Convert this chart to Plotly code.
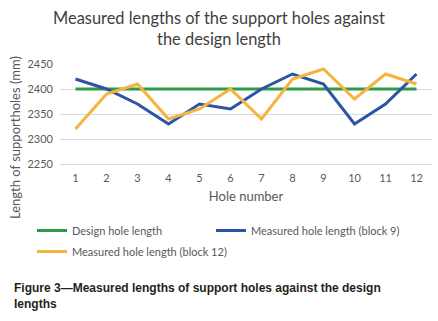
import plotly.graph_objects as go

holes = [1, 2, 3, 4, 5, 6, 7, 8, 9, 10, 11, 12]
design = [2400, 2400, 2400, 2400, 2400, 2400, 2400, 2400, 2400, 2400, 2400, 2400]
block9 = [2420, 2400, 2370, 2330, 2370, 2360, 2400, 2430, 2410, 2330, 2370, 2430]
block12 = [2320, 2390, 2410, 2340, 2360, 2400, 2340, 2420, 2440, 2380, 2430, 2410]
y_ticks = [2250, 2300, 2350, 2400, 2450]

W, H = 438, 321
L, R, T, B = 60, 6, 64, 157
pw = W - L - R
ph = H - T - B

def px_x(px):
    return (px - L) / pw

def px_y(py):
    return (H - B - py) / ph

font = "Lato, Open Sans, sans-serif"

fig = go.Figure()
fig.add_trace(go.Scatter(x=holes, y=design, mode="lines", name="Design hole length",
                         line=dict(color="#2E9B48", width=3), legend="legend"))
fig.add_trace(go.Scatter(x=holes, y=block9, mode="lines", name="Measured hole length (block 9)",
                         line=dict(color="#2D54A3", width=3), legend="legend2"))
fig.add_trace(go.Scatter(x=holes, y=block12, mode="lines", name="Measured hole length (block 12)",
                         line=dict(color="#F4B43E", width=3), legend="legend3"))

leg_common = dict(orientation="h", xanchor="left", yanchor="top",
                  font=dict(size=11, color="#595959"), itemwidth=30,
                  bgcolor="rgba(0,0,0,0)")

fig.update_layout(
    width=W, height=H,
    margin=dict(l=L, r=R, t=T, b=B, pad=0, autoexpand=False),
    paper_bgcolor="white", plot_bgcolor="white",
    font=dict(family=font, color="#595959", size=11),
    title=dict(text="Measured lengths of the support holes against<br>the design length",
               x=0.5, xanchor="center", xref="container",
               y=1 - 23.5 / H, yanchor="middle", yref="container",
               font=dict(family=font, size=16.4, color="#404040"), automargin=False),
    xaxis=dict(range=[0.5, 12.5], tickvals=holes, ticktext=[str(h) for h in holes],
               showgrid=False, zeroline=False, showline=True, linecolor="#d9d9d9", linewidth=1,
               ticks="", ticklabelstandoff=4, automargin=False,
               title=dict(text="Hole number", standoff=8, font=dict(size=13, color="#595959"))),
    yaxis=dict(range=[2250, 2450], tickvals=y_ticks, showgrid=True, gridcolor="#d9d9d9",
               gridwidth=1, zeroline=False, showline=False, ticks="", ticklabelstandoff=6,
               automargin=False),
    legend=dict(x=px_x(32), y=px_y(216), **leg_common),
    legend2=dict(x=px_x(211), y=px_y(216), **leg_common),
    legend3=dict(x=px_x(32), y=px_y(237), **leg_common),
    showlegend=True,
)

fig.add_annotation(text="Length of supportholes (mm)", textangle=-90,
                   xref="paper", yref="paper", x=px_x(15), y=px_y(138),
                   xanchor="center", yanchor="middle", showarrow=False,
                   font=dict(family=font, size=13, color="#595959"))

fig.add_annotation(text="<b>Figure 3\u2014Measured lengths of support holes against the design<br>lengths</b>",
                   xref="paper", yref="paper", x=px_x(12), y=px_y(295.5),
                   xanchor="left", yanchor="middle", align="left", showarrow=False,
                   font=dict(family="Liberation Sans, Arial, sans-serif", size=12, color="#231f20"))

fig.write_html("out.html", config={"displayModeBar": False},
               post_script="document.body.style.margin='0';")
